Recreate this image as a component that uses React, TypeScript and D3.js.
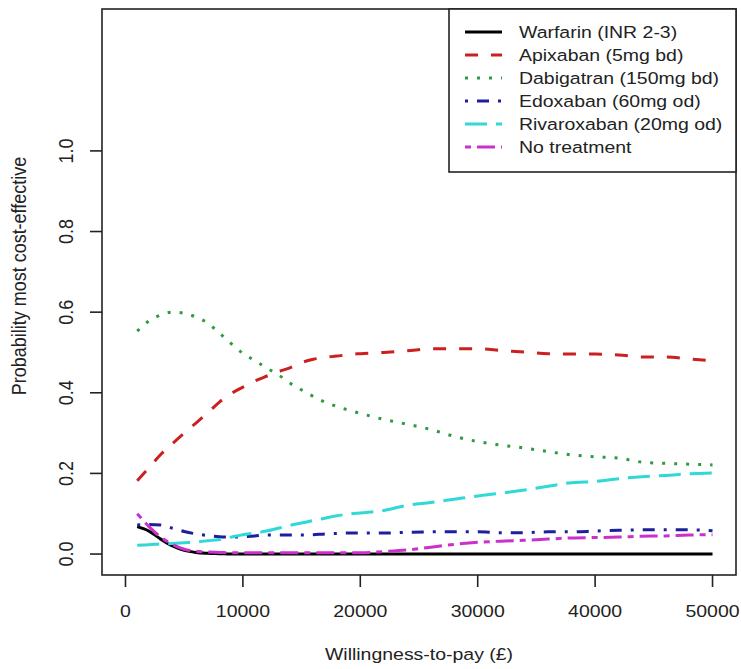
import React from "react";
import * as d3 from "d3";

// willingness-to-pay grid (£)
const wtp = [
  1000, 2000, 3000, 4000, 5000, 6000, 7000, 8000, 9000, 10000,
  11000, 12000, 13000, 14000, 15000, 16000, 17000, 18000, 19000, 20000,
  22000, 24000, 26000, 28000, 30000, 32000, 34000, 36000, 38000, 40000,
  42000, 44000, 46000, 48000, 50000,
];

const warfarin = [
  0.068, 0.057, 0.037, 0.02, 0.009, 0.004, 0.002, 0.001, 0, 0,
  0, 0, 0, 0, 0, 0, 0, 0, 0, 0,
  0, 0, 0, 0, 0, 0, 0, 0, 0, 0,
  0, 0, 0, 0, 0,
];
const apixaban = [
  0.182, 0.214, 0.247, 0.274, 0.3, 0.325, 0.35, 0.377, 0.398, 0.414,
  0.429, 0.441, 0.452, 0.462, 0.475, 0.483, 0.488, 0.491, 0.495, 0.497,
  0.5, 0.504, 0.509, 0.509, 0.509, 0.505, 0.501, 0.497, 0.496, 0.496,
  0.494, 0.489, 0.489, 0.484, 0.479,
];
const dabigatran = [
  0.553, 0.578, 0.593, 0.6, 0.597, 0.588, 0.573, 0.548, 0.522, 0.498,
  0.48, 0.462, 0.445, 0.424, 0.407, 0.391, 0.377, 0.366, 0.357, 0.349,
  0.334, 0.322, 0.309, 0.292, 0.279, 0.27, 0.263, 0.254, 0.246, 0.241,
  0.238, 0.228, 0.225, 0.223, 0.221,
];
const edoxaban = [
  0.072, 0.073, 0.072, 0.064, 0.056, 0.05, 0.046, 0.043, 0.042, 0.043,
  0.045, 0.047, 0.047, 0.047, 0.047, 0.048, 0.05, 0.051, 0.052, 0.052,
  0.052, 0.054, 0.055, 0.055, 0.055, 0.053, 0.053, 0.055, 0.055, 0.057,
  0.059, 0.06, 0.06, 0.06, 0.058,
];
const rivaroxaban = [
  0.022, 0.023, 0.025, 0.026, 0.028, 0.03, 0.033, 0.036, 0.042, 0.048,
  0.052, 0.057, 0.064, 0.071, 0.077, 0.083, 0.089, 0.095, 0.099, 0.102,
  0.108, 0.121, 0.128, 0.136, 0.144, 0.151, 0.159, 0.168, 0.177, 0.18,
  0.187, 0.192, 0.195, 0.199, 0.201,
];
const noTreatment = [
  0.1, 0.068, 0.042, 0.024, 0.012, 0.007, 0.005, 0.004, 0.003, 0.003,
  0.003, 0.003, 0.003, 0.003, 0.003, 0.003, 0.003, 0.003, 0.003, 0.003,
  0.006, 0.01, 0.017, 0.024, 0.029, 0.032, 0.034, 0.037, 0.04, 0.041,
  0.042, 0.044, 0.045, 0.047, 0.048,
];

const seriesNames = [
  "Warfarin (INR 2-3)",
  "Apixaban (5mg bd)",
  "Dabigatran (150mg bd)",
  "Edoxaban (60mg od)",
  "Rivaroxaban (20mg od)",
  "No treatment",
];
const seriesValues = [warfarin, apixaban, dabigatran, edoxaban, rivaroxaban, noTreatment];
const seriesColors = ["#000000", "#cc1f1f", "#2f9a3f", "#1e1e9e", "#30d8d8", "#cc30cc"];
// R line types 1..6 scaled to the picture
const seriesDash = ["none", "13 13", "3 9", "3 9 12 9", "22 9", "6 6 18 6"];

const xTicks = [0, 10000, 20000, 30000, 40000, 50000];
const yTicks = [0, 0.2, 0.4, 0.6, 0.8, 1.0];

const W = 741;
const H = 669;
const plot = { left: 102, right: 736, top: 9, bottom: 575 };
const font = "'Liberation Sans', Arial, sans-serif";
const fs = 16.5;
const sx = 1.18; // horizontal stretch of the original picture

export default function App() {
  const x = d3.scaleLinear().domain([-2000, 52000]).range([plot.left, plot.right]);
  const y = d3.scaleLinear().domain([-0.052, 1.352]).range([plot.bottom, plot.top]);

  const line = d3
    .line<number>()
    .x((_, i) => x(wtp[i]))
    .y((d) => y(d))
    .curve(d3.curveMonotoneX);

  const legend = { left: 449, right: 736, top: 9, bottom: 172, row0: 32, step: 23 };

  return (
    <svg
      width={W}
      height={H}
      style={{ position: "absolute", left: 0, top: 0, background: "#fff" }}
      fontFamily={font}
      fontSize={fs}
    >
      <rect x={0} y={0} width={W} height={H} fill="#fff" />

      {/* curves */}
      <g fill="none" strokeWidth={3}>
        {seriesValues.map((vals, i) => (
          <path
            key={i}
            d={line(vals) ?? ""}
            stroke={seriesColors[i]}
            strokeDasharray={seriesDash[i]}
          />
        ))}
      </g>

      {/* plot box */}
      <rect
        x={plot.left}
        y={plot.top}
        width={plot.right - plot.left}
        height={plot.bottom - plot.top}
        fill="none"
        stroke="#222"
        strokeWidth={1.6}
      />

      {/* x axis */}
      <g>
        {xTicks.map((t) => (
          <g key={t}>
            <line x1={x(t)} x2={x(t)} y1={plot.bottom} y2={plot.bottom + 12} stroke="#222" strokeWidth={1.6} />
            <text
              transform={`translate(${x(t)},617) scale(${sx},1)`}
              textAnchor="middle"
              fill="#222"
            >
              {String(t)}
            </text>
          </g>
        ))}
        <text
          transform={`translate(${(plot.left + plot.right) / 2},660) scale(${sx},1)`}
          textAnchor="middle"
          fill="#222"
        >
          Willingness-to-pay (£)
        </text>
      </g>

      {/* y axis */}
      <g>
        {yTicks.map((t) => (
          <g key={t}>
            <line x1={plot.left} x2={plot.left - 12} y1={y(t)} y2={y(t)} stroke="#222" strokeWidth={1.6} />
            <text
              transform={`translate(73,${y(t)}) rotate(-90) scale(1.09,${sx})`}
              textAnchor="middle"
              fill="#222"
            >
              {t.toFixed(1)}
            </text>
          </g>
        ))}
        <text
          transform={`translate(26,276) rotate(-90) scale(1.09,${sx})`}
          textAnchor="middle"
          fill="#222"
        >
          Probability most cost-effective
        </text>
      </g>

      {/* legend */}
      <rect
        x={legend.left}
        y={legend.top}
        width={legend.right - legend.left}
        height={legend.bottom - legend.top}
        fill="#fff"
        stroke="#222"
        strokeWidth={1.6}
      />
      {seriesNames.map((name, i) => {
        const ry = legend.row0 + i * legend.step;
        return (
          <g key={name}>
            <line
              x1={465}
              x2={502}
              y1={ry}
              y2={ry}
              stroke={seriesColors[i]}
              strokeWidth={3}
              strokeDasharray={seriesDash[i]}
            />
            <text transform={`translate(519,${ry + 6}) scale(${sx},1)`} fill="#222">
              {name}
            </text>
          </g>
        );
      })}
    </svg>
  );
}
